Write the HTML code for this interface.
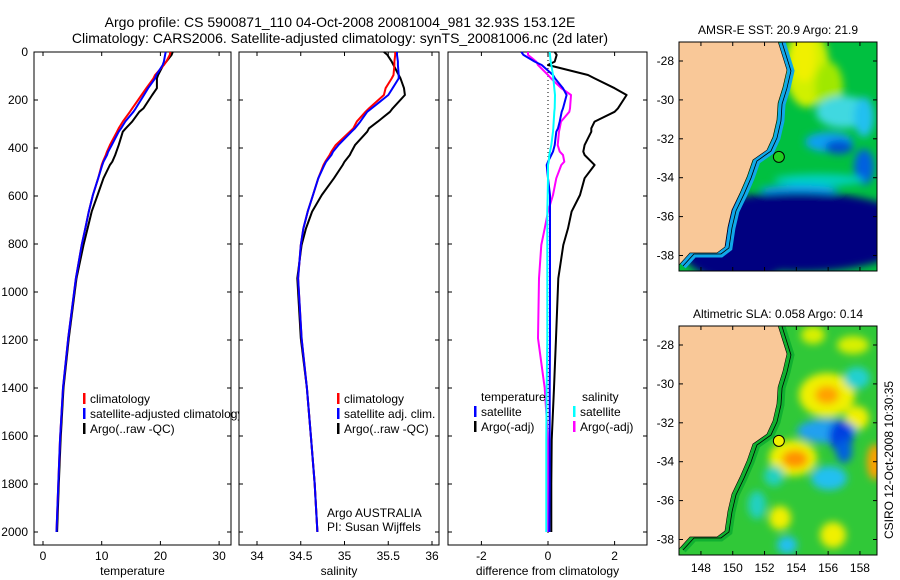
<!DOCTYPE html>
<html><head><meta charset="utf-8"><style>
body{margin:0;background:#fff;}
svg{display:block;font-family:"Liberation Sans",sans-serif;}
</style></head><body>
<svg id="fig" width="900" height="580" viewBox="0 0 900 580">
<defs>
<filter id="bl" x="-50%" y="-50%" width="200%" height="200%"><feGaussianBlur stdDeviation="4"/></filter>
<clipPath id="c1"><rect x="679" y="42" width="198" height="229"/></clipPath>
<clipPath id="c2"><rect x="679" y="326" width="198" height="229"/></clipPath>
</defs>
<text x="340" y="27" font-size="14" text-anchor="middle">Argo profile: CS 5900871_110 04-Oct-2008 20081004_981 32.93S 153.12E</text>
<text x="340" y="43" font-size="14" text-anchor="middle">Climatology: CARS2006. Satellite-adjusted climatology: synTS_20081006.nc (2d later)</text>
<g id="panels"></g>
<g id="maps"></g>
<text transform="translate(893,460) rotate(-90)" font-size="12" text-anchor="middle">CSIRO 12-Oct-2008 10:30:35</text>
</svg>
<script>
// ---- data ----
const depthTicks = [0,200,400,600,800,1000,1200,1400,1600,1800,2000];
const tTicks = [0,10,20,30];
const sTicks = [34,34.5,35,35.5,36];
const dTicks = [-2,0,2];
const lonTicks = [148,150,152,154,156,158];
const latTicks = [-28,-30,-32,-34,-36,-38];

const depths = [0,12,40,54,96,110,151,179,235,249,290,318,332,388,415,429,457,471,526,596,665,735,804,943,1193,1400,1617,1800,2000];
const tempClim  = [21.7,21.6,21.0,20.6,19.1,18.8,17.6,16.8,15.2,14.8,13.6,12.9,12.6,11.4,10.9,10.7,10.2,10.0,9.4,8.5,7.8,7.2,6.6,5.6,4.3,3.4,2.9,2.6,2.3];
const tempSat   = [20.9,20.8,20.6,20.4,19.3,19.1,17.9,17.2,15.8,15.4,14.0,13.3,12.9,11.7,11.1,10.9,10.3,10.1,9.4,8.5,7.8,7.2,6.6,5.6,4.3,3.4,2.9,2.6,2.3];
const tempArgo  = [22.1,21.9,21.0,20.5,19.6,19.4,19.4,18.6,17.1,16.4,15.2,14.1,13.6,12.9,12.5,12.3,11.8,11.4,10.3,9.3,8.3,7.6,6.9,5.7,4.4,3.5,3.0,2.7,2.4];
const salClim   = [35.58,35.58,35.57,35.57,35.56,35.54,35.47,35.45,35.28,35.24,35.14,35.10,35.06,34.90,34.85,34.83,34.78,34.76,34.70,34.64,34.58,34.53,34.50,34.47,34.51,34.57,34.62,34.66,34.69];
const salSat    = [35.60,35.60,35.61,35.61,35.62,35.62,35.55,35.50,35.31,35.26,35.18,35.12,35.08,34.93,34.87,34.85,34.79,34.77,34.70,34.64,34.58,34.53,34.50,34.47,34.51,34.57,34.62,34.66,34.69];
const salArgo   = [35.45,35.49,35.54,35.56,35.62,35.64,35.68,35.69,35.55,35.52,35.38,35.28,35.26,35.12,35.08,35.06,35.00,34.98,34.88,34.74,34.63,34.56,34.51,34.46,34.50,34.57,34.62,34.66,34.69];
const dTempSat  = [-0.8,-0.74,-0.4,-0.19,0.15,0.21,0.45,0.56,0.45,0.41,0.35,0.3,0.25,0.2,0.15,0.1,0.0,-0.04,0.0,0.06,0.06,0.06,0.06,0.06,0.06,0.05,0.05,0.05,0.04];
const dTempArgo = [0.2,0.26,0.2,0.0,1.2,1.4,2.0,2.36,2.1,2.0,1.4,1.3,1.3,1.1,1.06,1.1,1.3,1.4,1.1,0.96,0.71,0.6,0.46,0.31,0.24,0.18,0.11,0.1,0.1];
const dSalSat   = [0.05,0.06,0.08,0.1,0.15,0.16,0.19,0.21,0.2,0.19,0.17,0.16,0.15,0.1,0.06,0.04,0.02,0.0,0.0,-0.01,-0.02,-0.02,-0.02,-0.02,-0.02,-0.04,-0.05,-0.05,-0.05];
const dSalArgo  = [-0.6,-0.6,-0.35,-0.3,0.0,0.09,0.4,0.69,0.66,0.64,0.39,0.35,0.33,0.29,0.35,0.45,0.49,0.4,0.25,0.15,0.0,-0.1,-0.2,-0.27,-0.3,-0.1,0.0,0.0,0.0];

const coast = [[152.85,-27.0],[153.41,-28.46],[153.16,-29.34],[152.85,-30.16],[152.78,-31.03],[152.53,-31.91],[152.15,-32.58],[151.27,-33.09],[150.90,-33.96],[150.46,-34.79],[149.95,-35.66],[149.70,-36.53],[149.51,-37.56],[149.01,-37.87],[147.31,-37.87],[146.62,-38.49]];
const argoLon = 152.9, argoLat = -32.93;

// ---- helpers ----
const NS='http://www.w3.org/2000/svg';
function mk(tag,attrs,parent){const e=document.createElementNS(NS,tag);for(const k in attrs)e.setAttribute(k,attrs[k]);parent.appendChild(e);return e;}
const panels=document.getElementById('panels');
const Y0=52, YB=545, PXM=0.24;
const yD=d=>Y0+d*PXM;

function panel(name,x0,x1,xf,ticks,label,showY){
  const g=mk('g',{},panels);
  
  
  const fr=mk('rect',{x:x0,y:Y0,width:x1-x0,height:YB-Y0,fill:'#fff',stroke:'#000','stroke-width':1},g);
  
  
  depthTicks.forEach(d=>{
    mk('line',{x1:x0,x2:x0+4,y1:yD(d),y2:yD(d),stroke:'#000'},g);
    mk('line',{x1:x1,x2:x1-4,y1:yD(d),y2:yD(d),stroke:'#000'},g);
    if(showY){const t=mk('text',{x:x0-6,y:yD(d)+4,'font-size':12,'text-anchor':'end'},g);t.textContent=d;
      
      }
  });
  ticks.forEach(v=>{
    const x=xf(v);
    mk('line',{x1:x,x2:x,y1:Y0,y2:Y0+4,stroke:'#000'},g);
    mk('line',{x1:x,x2:x,y1:YB,y2:YB-4,stroke:'#000'},g);
    const t=mk('text',{x:x,y:YB+15,'font-size':12,'text-anchor':'middle'},g);t.textContent=v;
    
    
  });
  const lt=mk('text',{x:(x0+x1)/2,y:YB+30,'font-size':12,'text-anchor':'middle'},g);lt.textContent=label;
  
  
  return g;
}
function line(g,xf,vals,color,w,name){
  const pts=vals.map((v,i)=>xf(v).toFixed(1)+','+yD(depths[i]).toFixed(1)).join(' ');
  const p=mk('polyline',{points:pts,fill:'none',stroke:color,'stroke-width':w,'stroke-linejoin':'round'},g);
  
  
}
function legend(g,x,y,items){
  items.forEach((it,i)=>{
    if(it[0]) mk('rect',{x:x,y:y+i*15-10,width:2.5,height:11,fill:it[0]},g);
    const t=mk('text',{x:x+(it[0]?7:0),y:y+i*15,'font-size':12},g);t.textContent=it[1];
    
    
  });
}

// Panel 1 temperature
const xT=v=>43+v*5.87;
const g1=panel('temperature-panel',34,231,xT,tTicks,'temperature',true);
line(g1,xT,tempArgo,'#000',2,'argo-temperature-line');
line(g1,xT,tempClim,'#f00',2,'climatology-temperature-line');
line(g1,xT,tempSat,'#00f',2,'satellite-temperature-line');
legend(g1,83,403,[['#f00','climatology'],['#00f','satellite-adjusted climatology'],['#000','Argo(..raw -QC)']]);

// Panel 2 salinity
const xS=v=>257+(v-34)*87.5;
const g2=panel('salinity-panel',239,439,xS,sTicks,'salinity',false);
line(g2,xS,salArgo,'#000',2,'argo-salinity-line');
line(g2,xS,salClim,'#f00',2,'climatology-salinity-line');
line(g2,xS,salSat,'#00f',2,'satellite-salinity-line');
legend(g2,337,403,[['#f00','climatology'],['#00f','satellite adj. clim.'],['#000','Argo(..raw -QC)']]);
const a1=mk('text',{x:327,y:517,'font-size':12},g2);a1.textContent='Argo AUSTRALIA';


const a2=mk('text',{x:327,y:531,'font-size':12},g2);a2.textContent='PI: Susan Wijffels';



// Panel 3 difference
const xDf=v=>548+v*33.3;
const g3=panel('difference-panel',448,647,xDf,dTicks,'difference from climatology',false);
mk('line',{x1:xDf(0),x2:xDf(0),y1:Y0,y2:YB-12,stroke:'#000','stroke-dasharray':'1,3'},g3);
line(g3,xDf,dTempArgo,'#000',2,'argo-temp-diff-line');
line(g3,xDf,dSalArgo,'#f0f',2,'argo-sal-diff-line');
line(g3,xDf,dTempSat,'#00f',2,'satellite-temp-diff-line');
line(g3,xDf,dSalSat,'#0ff',2,'satellite-sal-diff-line');
legend(g3,474,401,[[null,''],['#00f','satellite'],['#000','Argo(-adj)']]);
legend(g3,573,401,[[null,''],['#0ff','satellite'],['#f0f','Argo(-adj)']]);
const lh1=mk('text',{x:481,y:401,'font-size':12},g3);lh1.textContent='temperature';


const lh2=mk('text',{x:582,y:401,'font-size':12},g3);lh2.textContent='salinity';



// ---- maps ----
const maps=document.getElementById('maps');
const MX0=679,MW=198,MH=229;
const lonX=lon=>MX0+(lon-146.62)*15.9;
const latYf=top=>lat=>top+19+(-28-lat)*19.45;
const blobs1=[
 ['#d0f000',128,25,22,40],['#f0f000',125,15,12,25],['#a0e800',150,45,14,25],
 ['#40d8e0',165,70,28,16],['#20c0f0',185,75,10,20],['#10a0f0',150,100,24,10],['#0050d0',160,105,14,7],
 ['#0060e0',185,125,10,18],['#00d0c0',140,138,45,6],['#10a0f0',120,148,40,5],
 ['#000080',120,190,120,40],['#000080',60,200,60,40]];
const blobs2=[
 ['#f0f000',148,69,28,22],['#ffa000',148,69,12,9],['#f0f000',114,132,24,18],['#ff9000',116,133,13,9],
 ['#f0f000',101,192,11,12],['#f0f000',154,209,13,13],['#ffa000',196,136,8,18],['#f0f000',178,92,12,12],
 ['#d8f000',174,19,16,9],['#d8f000',134,9,12,9],['#20a0f0',148,105,30,12],['#0040e0',162,110,12,16],['#0060e0',165,125,8,12],
 ['#20c0f0',150,152,18,12],['#20d0d0',178,52,13,11],['#20c0f0',108,219,10,9],['#20d0c0',78,179,9,14],['#20d0c0',95,150,10,10]];
function drawMap(name,top,title,base,blobs,dotColor,showLon,clip,shelfCol){
  const g=mk('g',{},maps);
  
  
  const latY=latYf(top);
  const t=mk('text',{x:MX0+MW/2,y:top-8,'font-size':12,'text-anchor':'middle'},g);t.textContent=title;
  
  
  const inner=mk('g',{'clip-path':'url(#'+clip+')'},g);
  mk('rect',{x:MX0,y:top,width:MW,height:MH,fill:base},inner);
  const bg=mk('g',{filter:'url(#bl)'},inner);
  blobs.forEach(b=>mk('ellipse',{cx:MX0+b[1],cy:top+b[2],rx:b[3],ry:b[4],fill:b[0]},bg));
  const cpts=coast.map(c=>lonX(c[0])+','+latY(c[1]));
  const shelf=coast.map(c=>(lonX(c[0])+4)+','+(latY(c[1])+1));
  mk('polyline',{points:shelf.join(' '),fill:'none',stroke:shelfCol,'stroke-width':7},inner);
  mk('polyline',{points:shelf.join(' '),fill:'none',stroke:'#000','stroke-width':0.8},inner);
  const land=mk('polygon',{points:[MX0+','+top].concat(cpts).concat([MX0+','+(top+MH)]).join(' '),fill:'#f9c898',stroke:'#000','stroke-width':0.6},inner);
  
  
  const dot=mk('circle',{cx:lonX(argoLon),cy:latY(argoLat),r:5.5,fill:dotColor,stroke:'#000','stroke-width':1},g);
  
  
  mk('rect',{x:MX0,y:top,width:MW,height:MH,fill:'none',stroke:'#000'},g);
  latTicks.forEach(l=>{
    const y=latY(l);
    mk('line',{x1:MX0,x2:MX0+4,y1:y,y2:y,stroke:'#000'},g);
    mk('line',{x1:MX0+MW,x2:MX0+MW-4,y1:y,y2:y,stroke:'#000'},g);
    const tt=mk('text',{x:MX0-5,y:y+4,'font-size':12,'text-anchor':'end'},g);tt.textContent=l;
    
    
  });
  lonTicks.forEach(l=>{
    const x=lonX(l);
    mk('line',{x1:x,x2:x,y1:top,y2:top+4,stroke:'#000'},g);
    mk('line',{x1:x,x2:x,y1:top+MH,y2:top+MH-4,stroke:'#000'},g);
    if(showLon){const tt=mk('text',{x:x,y:top+MH+17,'font-size':12,'text-anchor':'middle'},g);tt.textContent=l;
      
      }
  });
}
drawMap('sst-map',42,'AMSR-E SST: 20.9 Argo: 21.9','#00c040',blobs1,'#20d020',false,'c1','#10a8e8');
drawMap('sla-map',326,'Altimetric SLA: 0.058 Argo: 0.14','#30c838',blobs2,'#f0f000',true,'c2','#10b030');
</script>
</body></html>
